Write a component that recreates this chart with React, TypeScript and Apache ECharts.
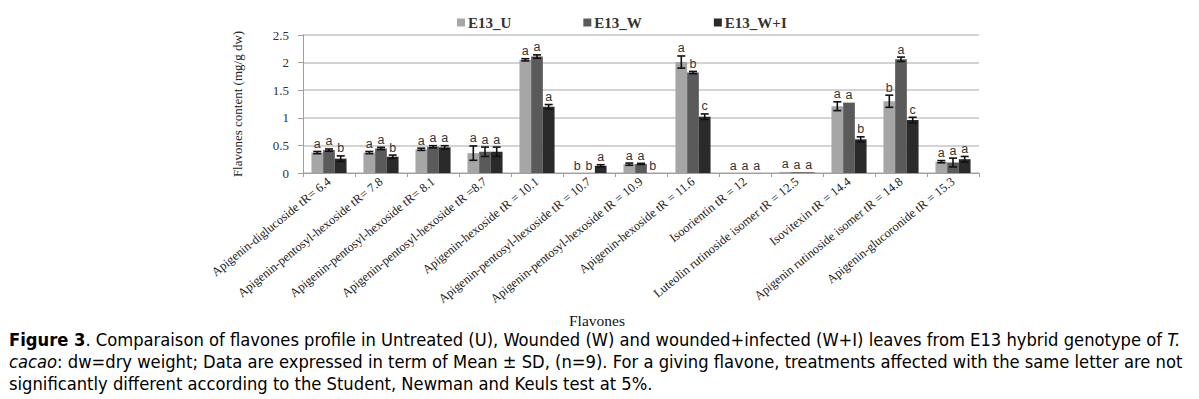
import React, { useEffect, useRef } from "react";
import * as echarts from "echarts";

const categories = [
  "Apigenin-diglucoside tR= 6.4",
  "Apigenin-pentosyl-hexoside tR= 7.8",
  "Apigenin-pentosyl-hexoside tR= 8.1",
  "Apigenin-pentosyl-hexoside tR =8.7",
  "Apigenin-hexoside tR = 10.1",
  "Apigenin-pentosyl-hexoside tR = 10.7",
  "Apigenin-pentosyl-hexoside tR = 10.9",
  "Apigenin-hexoside tR = 11.6",
  "Isoorientin tR = 12",
  "Luteolin rutinoside isomer tR = 12.5",
  "Isovitexin tR = 14.4",
  "Apigenin rutinoside isomer tR = 14.8",
  "Apigenin-glucoronide tR = 15.3",
];

const seriesNames = ["E13_U", "E13_W", "E13_W+I"];

const valuesU = [0.37, 0.37, 0.43, 0.36, 2.05, 0, 0.16, 2.01, 0, 0.02, 1.21, 1.3, 0.205];
const valuesW = [0.415, 0.445, 0.475, 0.385, 2.11, 0, 0.165, 1.82, 0, 0.015, 1.275, 2.06, 0.19];
const valuesWI = [0.26, 0.295, 0.465, 0.385, 1.2, 0.13, 0, 1.02, 0, 0.01, 0.61, 0.96, 0.25];

const errU = [0.02, 0.02, 0.02, 0.13, 0.02, 0, 0.02, 0.11, 0, 0, 0.08, 0.11, 0.02];
const errW = [0.02, 0.02, 0.02, 0.085, 0.03, 0, 0.01, 0.02, 0, 0, 0, 0.04, 0.08];
const errWI = [0.05, 0.03, 0.03, 0.085, 0.04, 0.02, 0, 0.05, 0, 0, 0.045, 0.05, 0.05];

const lettersU = ["a", "a", "a", "a", "a", "b", "a", "a", "a", "a", "a", "b", "a"];
const lettersW = ["a", "a", "a", "a", "a", "b", "a", "b", "a", "a", "a", "a", "a"];
const lettersWI = ["b", "b", "a", "a", "a", "a", "b", "c", "a", "a", "b", "c", "a"];

const yTicks = { min: 0, max: 2.5, interval: 0.5 };

const captionLine1 =
  " Comparaison of flavones profile in Untreated (U), Wounded (W) and wounded+infected (W+I) leaves from E13 hybrid genotype of ";
const captionLine2 =
  ": dw=dry weight; Data are expressed in term of Mean ± SD, (n=9). For a giving flavone, treatments affected with the same letter are not";
const captionLine3 =
  "significantly different according to the Student, Newman and Keuls test at 5%.";

const colors = ["#a6a6a6", "#5a5a5a", "#2a2a2a"];
const BAR_W = 11.7;

function errSeries(values: number[], errs: number[], letters: string[], offset: number) {
  return {
    type: "custom",
    silent: true,
    z: 5,
    data: values.map((v, i) => [i, v, errs[i]]),
    encode: { x: 0, y: 1 },
    renderItem: (params: any, api: any) => {
      const idx = api.value(0);
      const v = api.value(1);
      const e = api.value(2);
      const c = api.coord([idx, v]);
      const x = c[0] + offset;
      const top = api.coord([idx, v + e])[1];
      const bot = api.coord([idx, Math.max(v - e, 0)])[1];
      const children: any[] = [];
      if (e > 0) {
        const st = { stroke: "#111", lineWidth: 1.6 };
        children.push({ type: "line", shape: { x1: x, y1: top, x2: x, y2: bot }, style: st });
        children.push({ type: "line", shape: { x1: x - 4, y1: top, x2: x + 4, y2: top }, style: st });
        children.push({ type: "line", shape: { x1: x - 4, y1: bot, x2: x + 4, y2: bot }, style: st });
      }
      children.push({
        type: "text",
        style: {
          text: letters[params.dataIndex],
          x: x,
          y: top - 1,
          textAlign: "center",
          textVerticalAlign: "bottom",
          fill: "#333",
          font: "12.5px 'Liberation Sans', Arial, sans-serif",
        },
      });
      return { type: "group", children };
    },
  };
}

const capFont = "'Liberation Sans Narrow', 'DejaVu Sans Condensed', sans-serif";

export default function App() {
  const ref = useRef<HTMLDivElement>(null);
  useEffect(() => {
    if (!ref.current) return;
    const chart = echarts.init(ref.current, undefined, { renderer: "svg" });
    const serif = "'Liberation Serif', 'Times New Roman', serif";
    const option: any = {
      animation: false,
      backgroundColor: "#ffffff",
      legend: {
        left: 452,
        top: 10,
        itemWidth: 8,
        itemHeight: 8,
        itemGap: 72,
        icon: "rect",
        data: seriesNames,
        textStyle: { fontFamily: serif, fontWeight: "bold", fontSize: 15, color: "#333", padding: [0, 0, 0, -2] },
      },
      grid: { left: 303, top: 35, width: 676, height: 138, containLabel: false },
      xAxis: {
        type: "category",
        data: categories,
        axisLine: { show: true, lineStyle: { color: "#a0a0a0", width: 1 } },
        axisTick: { show: true, length: 4, lineStyle: { color: "#a0a0a0" } },
        axisLabel: { rotate: 39, interval: 0, fontFamily: serif, fontSize: 12.5, color: "#222", margin: 7 },
      },
      yAxis: {
        type: "value",
        min: yTicks.min,
        max: yTicks.max,
        interval: yTicks.interval,
        name: "Flavones content (mg/g dw)",
        nameLocation: "middle",
        nameGap: 59,
        nameTextStyle: { fontFamily: serif, fontSize: 13, color: "#222" },
        axisLine: { show: true, lineStyle: { color: "#a0a0a0" } },
        axisTick: { show: true, length: 5, lineStyle: { color: "#a0a0a0" } },
        axisLabel: { fontFamily: serif, fontSize: 13, color: "#333", margin: 14 },
        splitLine: { lineStyle: { color: "#c4c4c4", width: 1.5 } },
      },
      series: [
        { name: seriesNames[0], type: "bar", data: valuesU, barWidth: BAR_W, barGap: "0%", itemStyle: { color: colors[0] } },
        { name: seriesNames[1], type: "bar", data: valuesW, barWidth: BAR_W, barGap: "0%", itemStyle: { color: colors[1] } },
        { name: seriesNames[2], type: "bar", data: valuesWI, barWidth: BAR_W, barGap: "0%", itemStyle: { color: colors[2] } },
        errSeries(valuesU, errU, lettersU, -BAR_W),
        errSeries(valuesW, errW, lettersW, 0),
        errSeries(valuesWI, errWI, lettersWI, BAR_W),
      ],
      graphic: [
        {
          type: "text",
          left: 569,
          top: 312,
          style: { text: "Flavones", font: `15.5px ${serif}`, fill: "#111" },
        },
        {
          type: "text",
          left: 9,
          top: 330,
          style: {
            text: "{b|Figure 3}{n|." + captionLine1 + "}{i|T.}",
            rich: {
              b: { fontFamily: capFont, fontWeight: "bold", fontSize: 18.2, fill: "#000" },
              n: { fontFamily: capFont, fontSize: 18.2, fill: "#000" },
              i: { fontFamily: capFont, fontStyle: "italic", fontSize: 18.2, fill: "#000" },
            },
          },
        },
        {
          type: "text",
          left: 9,
          top: 352,
          style: {
            text: "{i|cacao}{n|" + captionLine2 + "}",
            rich: {
              n: { fontFamily: capFont, fontSize: 18.2, fill: "#000" },
              i: { fontFamily: capFont, fontStyle: "italic", fontSize: 18.2, fill: "#000" },
            },
          },
        },
        {
          type: "text",
          left: 9,
          top: 374,
          style: {
            text: captionLine3,
            font: "18.2px " + capFont,
            fill: "#000",
          },
        },
      ],
    };
    chart.setOption(option);
    return () => chart.dispose();
  }, []);
  return <div ref={ref} style={{ position: "fixed", left: 0, top: 0, width: 1199, height: 399 }} />;
}
